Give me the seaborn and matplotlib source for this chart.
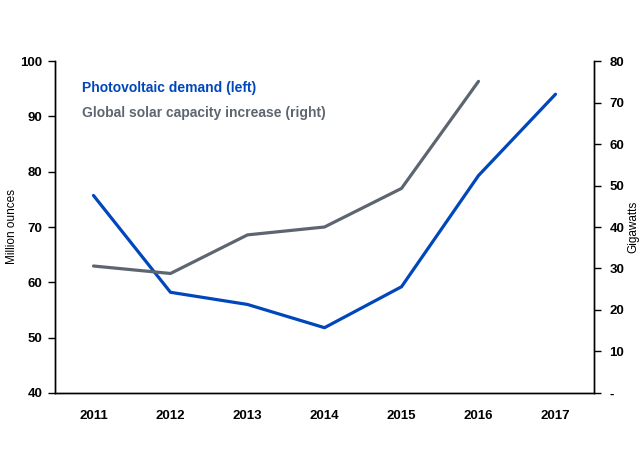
import numpy as np
import pandas as pd
import seaborn as sns
import matplotlib
matplotlib.use("Agg")
import matplotlib.pyplot as plt
from matplotlib.ticker import FixedLocator, FuncFormatter

years = [2011, 2012, 2013, 2014, 2015, 2016, 2017]
pv_demand = [75.7, 58.2, 56.0, 51.8, 59.2, 79.3, 94.0]
solar_years = [2011, 2012, 2013, 2014, 2015, 2016]
solar_capacity = [30.6, 28.8, 38.1, 40.0, 49.3, 75.1]

blue = "#0047bb"
grey = "#5d6670"

sns.set_style("white")
plt.rcParams['font.family'] = ['Liberation Sans', 'DejaVu Sans']

left_df = pd.DataFrame({"year": years, "demand": pv_demand})
right_df = pd.DataFrame({"year": solar_years, "capacity": solar_capacity})

fig = plt.figure(figsize=(6.43, 4.54), dpi=100)
ax = fig.add_axes([0.0855, 0.1344, 0.8383, 0.7312])
ax2 = ax.twinx()

sns.lineplot(data=left_df, x="year", y="demand", ax=ax, color=blue, linewidth=2.3)
sns.lineplot(data=right_df, x="year", y="capacity", ax=ax2, color=grey, linewidth=2.3)

ax.set_xlim(2010.5, 2017.5)
ax.set_ylim(40, 100)
ax2.set_ylim(0, 80)

ax.set_xticks(years)
ax.set_xticklabels([str(y) for y in years], fontweight="bold", fontsize=9.5, color="black")
ax.xaxis.set_minor_locator(FixedLocator([y - 0.5 for y in years] + [years[-1] + 0.5]))
ax.tick_params(axis="x", which="major", length=0, pad=12)
ax.tick_params(axis="x", which="minor", length=5, width=1, direction="out", color="black")

ax.set_yticks(np.arange(40, 101, 10))
ax.tick_params(axis="y", length=5, width=1, direction="out", color="black",
               labelcolor="black", labelsize=9.5, pad=4)
for t in ax.get_yticklabels():
    t.set_fontweight("bold")

ax2.set_yticks(np.arange(0, 81, 10))
ax2.yaxis.set_major_formatter(FuncFormatter(lambda v, p: "-" if v == 0 else f"{v:.0f}"))
ax2.tick_params(axis="y", length=5, width=1, direction="out", color="black",
                labelcolor="black", labelsize=9.5, pad=6)
for t in ax2.get_yticklabels():
    t.set_fontweight("bold")

for a in (ax, ax2):
    a.spines["top"].set_visible(False)
    for side in ("left", "right", "bottom"):
        a.spines[side].set_color("black")
        a.spines[side].set_linewidth(1)
    a.set_xlabel("")

ax.set_ylabel("Million ounces", fontsize=8.5, labelpad=2, color="black")
ax2.set_ylabel("Gigawatts", fontsize=8.5, rotation=90, labelpad=2, color="black")

ax.text(0.05, 0.919, "Photovoltaic demand (left)", transform=ax.transAxes,
        color=blue, fontsize=10, fontweight="bold", va="center")
ax.text(0.05, 0.843, "Global solar capacity increase (right)", transform=ax.transAxes,
        color=grey, fontsize=10, fontweight="bold", va="center")

fig.savefig("out.png", dpi=100)
